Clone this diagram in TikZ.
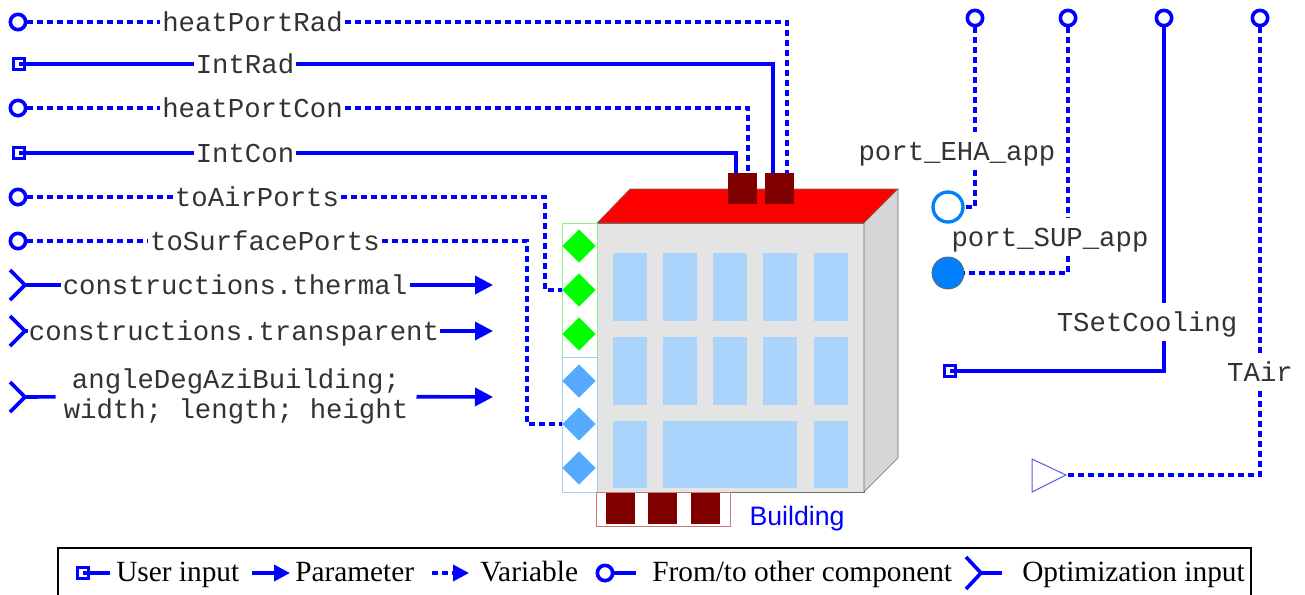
\documentclass[tikz,border=0pt]{standalone}
\usepackage{fontspec}
\setmainfont{Liberation Serif}
\newfontfamily\monofont{Liberation Mono}
\newfontfamily\sansfont{Liberation Sans}
\usetikzlibrary{arrows.meta,calc,shapes.geometric}

\definecolor{roofred}{RGB}{255,0,0}
\definecolor{wallgray}{RGB}{228,228,228}
\definecolor{sidegray}{RGB}{214,214,214}
\definecolor{edgegray}{RGB}{110,110,110}
\definecolor{glassblue}{RGB}{170,212,252}
\definecolor{heatred}{RGB}{128,0,0}
\definecolor{airgreen}{RGB}{0,255,0}
\definecolor{airframe}{RGB}{140,240,140}
\definecolor{surfblue}{RGB}{85,170,255}
\definecolor{surfframe}{RGB}{160,205,250}
\definecolor{floorframe}{RGB}{200,120,120}
\definecolor{fluidblue}{RGB}{0,128,255}
\definecolor{signalblue}{RGB}{90,90,220}

\tikzset{
    wire/.style={blue, line width=2.7pt},
    var/.style={wire, dash pattern=on 4.5pt off 3pt},
    param/.style={wire, -{Triangle[length=13.5pt, width=13.5pt]}},
    code/.style={font=\monofont\fontsize{20.5}{22.5}\selectfont, text=black!80, inner sep=1.5pt},
    lbl/.style={code, text height=13.5pt, text depth=0pt},
    vlbl/.style={lbl, inner ysep=7pt},
    extport/.style={circle, draw=blue, line width=2.7pt, fill=white, minimum size=11.5pt, inner sep=0pt},
    usrport/.style={rectangle, draw=blue, line width=2.4pt, fill=white, minimum size=8pt, inner sep=0pt},
    heatport/.style={rectangle, fill=heatred, minimum width=21.75pt, minimum height=23pt, inner sep=0pt},
    airport/.style={diamond, fill=airgreen, minimum width=25pt, minimum height=25pt, inner sep=0pt},
    surfport/.style={diamond, fill=surfblue, minimum width=25pt, minimum height=25pt, inner sep=0pt},
    legtext/.style={font=\fontsize{22}{26}\selectfont, anchor=base west, inner sep=0pt},
}

\begin{document}
\begin{tikzpicture}[x=0.75pt, y=-0.75pt]
    \useasboundingbox (0,0) rectangle (1305,594);

    % building: wall, roof, side
    \draw[edgegray, fill=wallgray] (597,223) rectangle (864,492);
    \draw[edgegray, fill=roofred] (597,223) -- (630,189) -- (898,189) -- (864,223) -- cycle;
    \draw[edgegray, fill=sidegray] (864,223) -- (898,189) -- (898,458) -- (864,492) -- cycle;

    % windows
    \foreach \x in {613,663,713,763,814} {
        \foreach \y in {253,337} {
            \fill[glassblue] (\x,\y) rectangle ++(34,68);
        }
    }
    \fill[glassblue] (613,421) rectangle ++(34,67);
    \fill[glassblue] (663,421) rectangle (797,488);
    \fill[glassblue] (814,421) rectangle ++(34,67);

    % air and surface ports on the left wall
    \draw[airframe] (562,223) rectangle (597,357);
    \draw[surfframe] (562,357) rectangle (597,492);
    \foreach \i/\y in {1/246,2/290,3/334} {
        \node[airport] (air\i) at (579,\y) {};
    }
    \foreach \i/\y in {1/381,2/424,3/468} {
        \node[surfport] (surf\i) at (579,\y) {};
    }

    % heat ports on the floor and on the roof
    \draw[floorframe] (596,492) rectangle (730,526);
    \foreach \i/\x in {1/620.5,2/662.5,3/705} {
        \node[heatport] (floor\i) at (\x,508.5) {};
    }
    \node[heatport] (con) at (742.5,188.5) {};
    \node[heatport] (rad) at (779.5,188.5) {};

    \node[font=\sansfont\fontsize{20}{24}\selectfont, text=blue] (bName) at (797,519) {Building};

    % heat ports from the left
    \node[extport] (eRad) at (18,22) {};
    \node[lbl] (lRad) at (252.5,22) {heatPortRad};
    \draw[var] (eRad) -- (lRad);
    \draw[var] (lRad) -| ($(rad.north)+(7.5,0)$);

    \node[usrport] (uIntRad) at (19,64) {};
    \node[lbl] (lIntRad) at (245,64) {IntRad};
    \draw[wire] (uIntRad.center) -- (lIntRad);
    \draw[wire] (lIntRad) -| ($(rad.north)+(-6.5,0)$);

    \node[extport] (eCon) at (18,108) {};
    \node[lbl] (lCon) at (252.5,108) {heatPortCon};
    \draw[var] (eCon) -- (lCon);
    \draw[var] (lCon) -| ($(con.north)+(5.5,0)$);

    \node[usrport] (uIntCon) at (19,153) {};
    \node[lbl] (lIntCon) at (245,153) {IntCon};
    \draw[wire] (uIntCon.center) -- (lIntCon);
    \draw[wire] (lIntCon) -| ($(con.north)+(-6.5,0)$);

    % fluid and surface ports
    \node[extport] (eAir) at (18,197) {};
    \node[lbl] (lAir) at (257,197) {toAirPorts};
    \coordinate (airBend) at (545,197);
    \draw[var] (eAir) -- (lAir);
    \draw[var] (lAir) -- (airBend) |- (air2);

    \node[extport] (eSurf) at (18,241) {};
    \node[lbl] (lSurf) at (265,241) {toSurfacePorts};
    \coordinate (surfBend) at (527,241);
    \draw[var] (eSurf) -- (lSurf);
    \draw[var] (lSurf) -- (surfBend) |- (surf2);

    % optimization inputs
    \foreach \y in {285,331,397} {
        \draw[wire] (10,\y-15) -- (25,\y) -- (10,\y+15);
    }
    \coordinate (oTh) at (25,285);
    \coordinate (aTh) at (493,285);
    \node[lbl] (lTh) at (235,285) {constructions.thermal};
    \draw[wire] (oTh) -- (lTh);
    \draw[param] (lTh) -- (aTh);

    \coordinate (oTr) at (25,331);
    \coordinate (aTr) at (493,331);
    \node[lbl, inner xsep=0.5pt] (lTr) at (234,331) {constructions.transparent};
    \draw[wire] (oTr) -- (lTr);
    \draw[param] (lTr) -- (aTr);

    \coordinate (oGeo) at (25,397);
    \coordinate (aGeo) at (493,397);
    \node[code, align=center, inner xsep=6pt] (lGeo) at (236,396) {angleDegAziBuilding;\\width; length; height};
    \draw[wire] (oGeo) -- (lGeo);
    \draw[param] (lGeo) -- (aGeo);

    % ports on the right
    \node[extport] (eEHA) at (975,18) {};
    \node[vlbl] (lEHA) at (957,151) {port\_EHA\_app};
    \node[circle, draw=fluidblue, line width=2.5pt, fill=white, minimum size=22.5pt, inner sep=0pt] (pEHA) at (948,207) {};
    \draw[var] (eEHA) -- (eEHA |- lEHA.north);
    \draw[var] (eEHA |- lEHA.south) |- (pEHA);

    \node[extport] (eSUP) at (1068,18) {};
    \node[vlbl] (lSUP) at (1050,237) {port\_SUP\_app};
    \node[circle, draw=black!60, line width=0.6pt, fill=fluidblue, minimum size=24pt, inner sep=0pt] (pSUP) at (948,273) {};
    \draw[var] (eSUP) -- (eSUP |- lSUP.north);
    \draw[var] (eSUP |- lSUP.south) |- (pSUP);

    \node[extport] (eTSet) at (1164,18) {};
    \node[vlbl] (lTSet) at (1147,322) {TSetCooling};
    \node[usrport] (uTSet) at (950,371) {};
    \draw[wire] (eTSet) -- (eTSet |- lTSet.north);
    \draw[wire] (eTSet |- lTSet.south) |- (uTSet.center);

    \node[extport] (eTAir) at (1260,18) {};
    \node[vlbl] (lTAir) at (1260,372) {TAir};
    \coordinate (tIn) at (1066,475);
    \draw[signalblue, fill=white, line width=0.75pt] (1032,459) -- (tIn) -- (1032,492) -- cycle;
    \draw[var] (eTAir) -- (lTAir);
    \draw[var] (lTAir) |- (tIn);

    % legend
    \draw[line width=1pt] (58,548) rectangle (1251,606);
    \node[usrport] (kUsr) at (83,573) {};
    \coordinate (kUsrEnd) at (110,573);
    \draw[wire] (kUsr.center) -- (kUsrEnd);
    \node[legtext] (tUsr) at (116,581) {User input};

    \coordinate (kParA) at (252,573);
    \coordinate (kParB) at (290,573);
    \draw[wire, -{Triangle[length=12pt, width=12pt]}] (kParA) -- (kParB);
    \node[legtext] (tPar) at (295,581) {Parameter};

    \coordinate (kVarA) at (432,573);
    \coordinate (kVarB) at (469,573);
    \draw[var, -{Triangle[length=12pt, width=12pt]}] (kVarA) -- (kVarB);
    \node[legtext] (tVar) at (480,581) {Variable};

    \node[extport] (kExt) at (605,573) {};
    \coordinate (kExtEnd) at (636,573);
    \draw[wire] (kExt) -- (kExtEnd);
    \node[legtext] (tExt) at (652,581) {From/to other component};

    \coordinate (kOpt) at (981,573);
    \coordinate (kOptEnd) at (1002,573);
    \draw[wire] (966,557) -- (kOpt) -- (966,589);
    \draw[wire] (kOpt) -- (kOptEnd);
    \node[legtext] (tOpt) at (1022,581) {Optimization input};
\end{tikzpicture}
\end{document}
